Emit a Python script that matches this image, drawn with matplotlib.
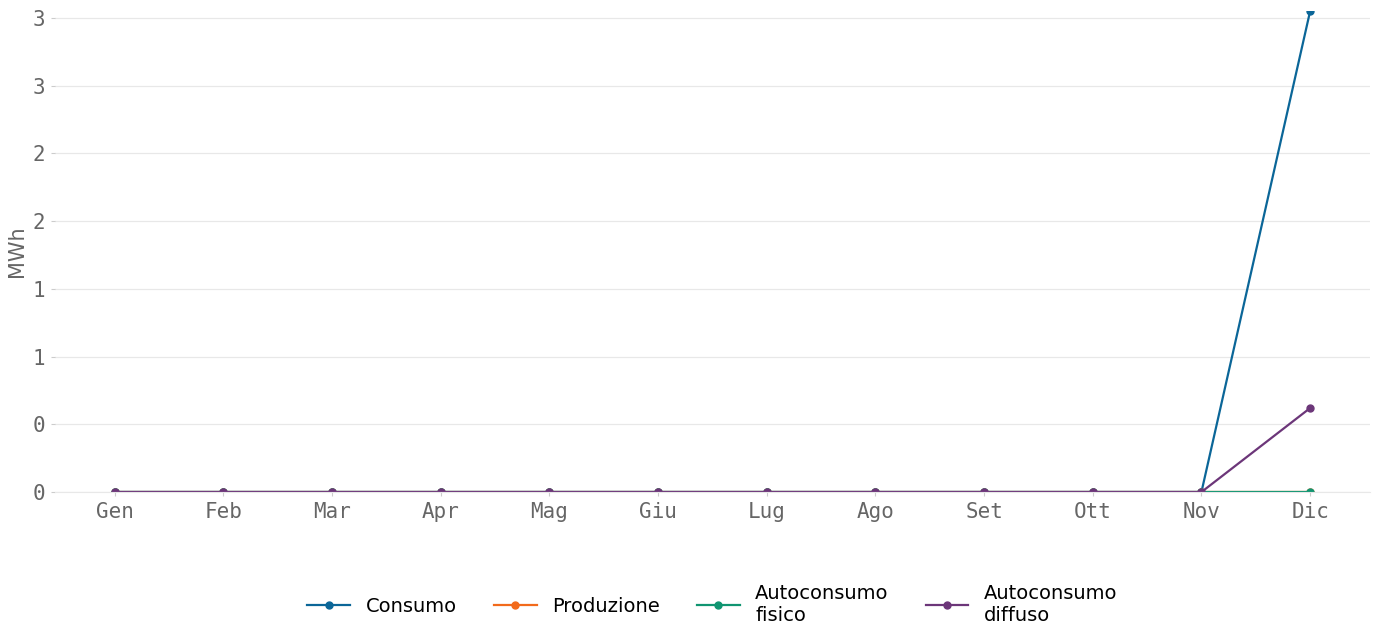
import matplotlib.pyplot as plt
from matplotlib.ticker import FixedLocator

# Monthly energy values (MWh)
months = ['Gen', 'Feb', 'Mar', 'Apr', 'Mag', 'Giu', 'Lug', 'Ago', 'Set', 'Ott', 'Nov', 'Dic']
consumo = [0, 0, 0, 0, 0, 0, 0, 0, 0, 0, 0, 3.55]
produzione = [0, 0, 0, 0, 0, 0, 0, 0, 0, 0, 0, 0]
autoconsumo_fisico = [0, 0, 0, 0, 0, 0, 0, 0, 0, 0, 0, 0]
autoconsumo_diffuso = [0, 0, 0, 0, 0, 0, 0, 0, 0, 0, 0, 0.62]

y_ticks = [0, 0.5, 1, 1.5, 2, 2.5, 3, 3.5]
y_ticklabels = ['0', '0', '1', '1', '2', '2', '3', '3']

series = [
    ('Consumo', consumo, '#0b6698'),
    ('Produzione', produzione, '#f26a1b'),
    ('Autoconsumo\nfisico', autoconsumo_fisico, '#109571'),
    ('Autoconsumo\ndiffuso', autoconsumo_diffuso, '#6c3679'),
]

fig = plt.figure(figsize=(13.74, 6.26), dpi=100)
ax = fig.add_axes([0.040, 0.214, 0.957, 0.768])

x = list(range(len(months)))
for label, vals, color in series:
    ax.plot(x, vals, '-o', color=color, linewidth=1.6, markersize=5, label=label)

ax.set_xlim(-0.55, len(months) - 1 + 0.55)
ax.set_ylim(0, max(consumo))

ax.set_xticks(x)
ax.set_xticklabels(months)
ax.yaxis.set_major_locator(FixedLocator(y_ticks))
ax.set_yticklabels(y_ticklabels)

for lbl in ax.get_xticklabels() + ax.get_yticklabels():
    lbl.set_family('DejaVu Sans Mono')
ax.tick_params(axis='both', labelsize=15, length=3, width=0.8,
               color='#cccccc', labelcolor='#666666', pad=4)

ax.set_ylabel('MWh', fontsize=15, color='#666666', labelpad=4)

ax.grid(True, axis='y', color='#e8e8e8', linewidth=0.9)
ax.set_axisbelow(True)
for side in ['top', 'right', 'left']:
    ax.spines[side].set_visible(False)
ax.spines['bottom'].set_color('#e8e8e8')

ax.legend(loc='center', bbox_to_anchor=(0.5, -0.233), ncol=4, frameon=False,
          fontsize=14, handlelength=2.2, columnspacing=1.9, handletextpad=0.8)

plt.savefig('out.png', dpi=100)
plt.close()
